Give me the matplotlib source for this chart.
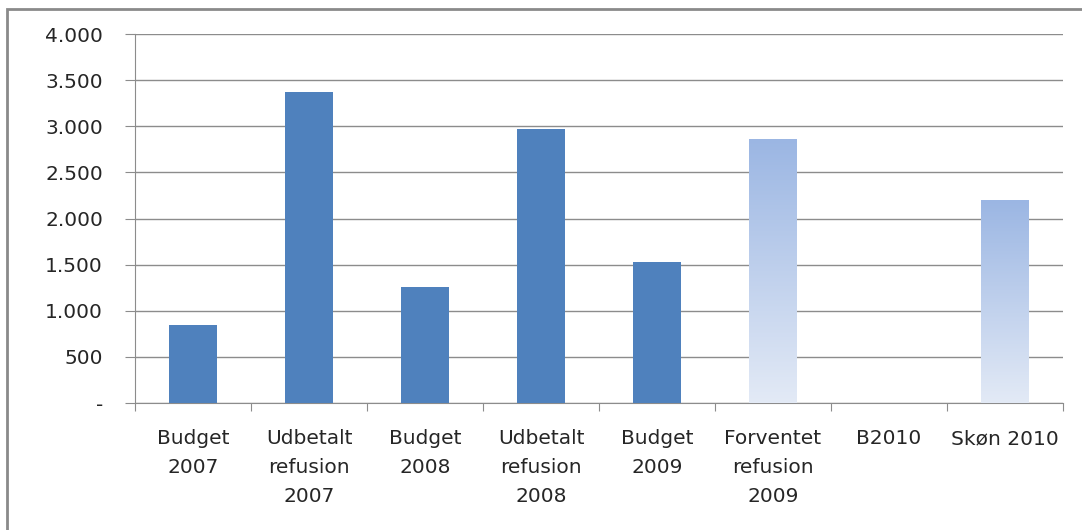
import numpy as np
import matplotlib
matplotlib.use("Agg")
import matplotlib.pyplot as plt
from matplotlib.patches import Rectangle
from matplotlib.colors import LinearSegmentedColormap

categories = ["Budget\n2007", "Udbetalt\nrefusion\n2007", "Budget\n2008",
              "Udbetalt\nrefusion\n2008", "Budget\n2009", "Forventet\nrefusion\n2009",
              "B2010", "Skøn 2010"]
values = [845, 3370, 1260, 2970, 1530, 2860, 0, 2200]
estimated = [False, False, False, False, False, True, True, True]
yticks = [0, 500, 1000, 1500, 2000, 2500, 3000, 3500, 4000]
ytick_labels = ["-", "500", "1.000", "1.500", "2.000", "2.500", "3.000", "3.500", "4.000"]

solid_color = "#4f81bd"
grad = LinearSegmentedColormap.from_list("grad", ["#e3eaf6", "#9bb6e3"])

fig = plt.figure(figsize=(10.82, 5.30), dpi=100)
ax = fig.add_axes([135 / 1082, 1 - 403 / 530, (1063 - 135) / 1082, (403 - 34) / 530])

# outer chart frame
fig.patches.append(Rectangle((7 / 1082, -0.05), 1.2, 1 - 9 / 530 + 0.05,
                             transform=fig.transFigure, fill=False,
                             edgecolor="#8a8a8a", linewidth=2))

x = np.arange(len(categories))
width = 0.41
bars = ax.bar(x, values, width=width, color=solid_color, zorder=3)
for b, v, est in zip(bars, values, estimated):
    if est:
        b.set_facecolor("none")
        if v > 0:
            x0 = b.get_x()
            img = ax.imshow(np.linspace(0, 1, 256).reshape(-1, 1), cmap=grad,
                            extent=[x0, x0 + width, 0, v], origin="lower",
                            aspect="auto", zorder=3)
            img.set_clip_path(b)

ax.set_xlim(-0.5, len(categories) - 0.5)
ax.set_ylim(0, 4000)
ax.set_yticks(yticks)
ax.set_yticklabels(ytick_labels)
ax.set_xticks(np.arange(len(categories) + 1) - 0.5, minor=False)
ax.set_xticklabels([])
ax.set_xticks(x, minor=True)
ax.set_xticklabels(categories, minor=True, fontsize=14.5, color="#262626",
                   linespacing=1.64, va="top")
ax.tick_params(axis="x", which="minor", length=0, pad=19)
ax.tick_params(axis="x", which="major", length=6, color="#8c8c8c", direction="out")
ax.tick_params(axis="y", length=7, color="#8c8c8c", labelsize=14.5,
               labelcolor="#262626", pad=16)

ax.grid(axis="y", color="#8c8c8c", linewidth=1, zorder=0)
ax.set_axisbelow(True)
for s in ["top", "right"]:
    ax.spines[s].set_visible(False)
ax.spines["left"].set_color("#8c8c8c")
ax.spines["bottom"].set_color("#8c8c8c")

fig.savefig("out.png", dpi=100)
